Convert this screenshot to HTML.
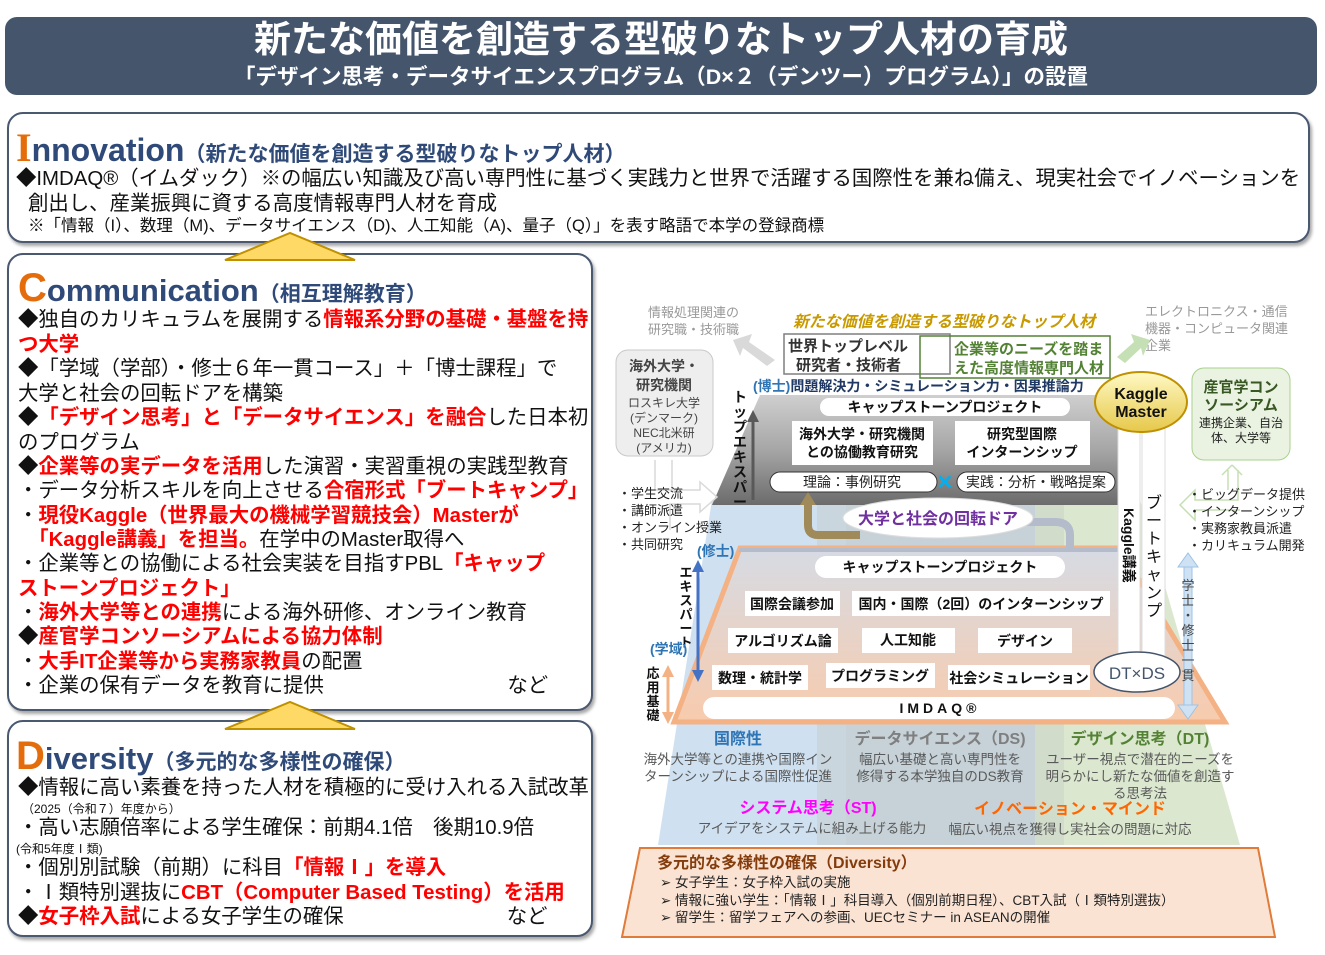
<!DOCTYPE html>
<html><head><meta charset="utf-8"><style>
*{margin:0;padding:0;box-sizing:border-box}
body{width:1325px;height:955px;background:#fff;position:relative;overflow:hidden;font-family:"Liberation Sans","Noto Sans CJK JP",sans-serif;color:#111}
.a{position:absolute;white-space:nowrap}
.panel{position:absolute;border:2px solid #4a5870;border-radius:16px;background:#fff;box-shadow:2px 3px 3px rgba(0,0,0,.35)}
.r{color:#f00;font-weight:bold}
.big{font-weight:bold;color:#2f4a78}
.ini{color:#e46c0a;font-weight:900}
.sub{font-weight:bold;color:#2f4a78;font-size:21px}
.ln{position:absolute;left:18px;font-size:20.4px;white-space:nowrap;line-height:24px}
</style></head><body>
<div class="a" style="left:5px;top:17px;width:1312px;height:78px;background:#45556c;border-radius:12px"></div>
<div class="a" style="left:5px;top:16px;width:1312px;text-align:center;color:#fff;font-weight:bold;font-size:37px;line-height:48px">新たな価値を創造する型破りなトップ人材の育成</div>
<div class="a" style="left:5px;top:63px;width:1312px;text-align:center;color:#fff;font-weight:bold;font-size:21.5px;line-height:28px">「デザイン思考・データサイエンスプログラム（D×２（デンツー）プログラム）」の設置</div>

<div class="panel" style="left:7px;top:112px;width:1303px;height:131px"></div>
<div class="a" style="left:16px;top:126px;line-height:44px"><span class="ini" style="font-size:40px;font-family:'Liberation Serif',serif">I</span><span class="big" style="font-size:32px">nnovation</span><span class="sub">（新たな価値を創造する型破りなトップ人材）</span></div>
<div class="a" style="left:16px;top:167px;font-size:20.4px;line-height:24px">◆IMDAQ®（イムダック）※の幅広い知識及び高い専門性に基づく実践力と世界で活躍する国際性を兼ね備え、現実社会でイノベーションを</div>
<div class="a" style="left:28px;top:192px;font-size:20.4px;line-height:24px">創出し、産業振興に資する高度情報専門人材を育成</div>
<div class="a" style="left:28px;top:216px;font-size:16.5px;line-height:20px">※「情報（I）、数理（M)、データサイエンス（D)、人工知能（A)、量子（Q）」を表す略語で本学の登録商標</div>

<div class="panel" style="left:7px;top:253px;width:586px;height:458px"></div>
<svg class="a" style="left:220px;top:230px" width="140" height="32"><polygon points="5,30 70,3 135,30" fill="#ffd966" stroke="#bf9000" stroke-width="2"/></svg>
<div class="a" style="left:18px;top:266px;line-height:44px"><span class="ini" style="font-size:40px">C</span><span class="big" style="font-size:31px">ommunication</span><span class="sub">（相互理解教育）</span></div>
<div class="ln" style="top:308px">◆独自のカリキュラムを展開する<span class="r">情報系分野の基礎・基盤を持</span></div>
<div class="ln" style="top:333px"><span class="r">つ大学</span></div>
<div class="ln" style="top:357px">◆「学域（学部）・修士６年一貫コース」＋「博士課程」で</div>
<div class="ln" style="top:382px">大学と社会の回転ドアを構築</div>
<div class="ln" style="top:406px">◆<span class="r">「デザイン思考」と「データサイエンス」を融合</span>した日本初</div>
<div class="ln" style="top:431px">のプログラム</div>
<div class="ln" style="top:455px">◆<span class="r">企業等の実データを活用</span>した演習・実習重視の実践型教育</div>
<div class="ln" style="top:479px">・データ分析スキルを向上させる<span class="r">合宿形式「ブートキャンプ」</span></div>
<div class="ln" style="top:504px">・<span class="r">現役Kaggle（世界最大の機械学習競技会）Masterが</span></div>
<div class="ln" style="top:528px">　<span class="r">「Kaggle講義」を担当。</span>在学中のMaster取得へ</div>
<div class="ln" style="top:552px">・企業等との協働による社会実装を目指すPBL<span class="r">「キャップ</span></div>
<div class="ln" style="top:577px"><span class="r">ストーンプロジェクト」</span></div>
<div class="ln" style="top:601px">・<span class="r">海外大学等との連携</span>による海外研修、オンライン教育</div>
<div class="ln" style="top:625px">◆<span class="r">産官学コンソーシアムによる協力体制</span></div>
<div class="ln" style="top:650px">・<span class="r">大手IT企業等から実務家教員</span>の配置</div>
<div class="ln" style="top:674px">・企業の保有データを教育に提供　　　　　　　　　など</div>

<div class="panel" style="left:7px;top:720px;width:586px;height:217px"></div>
<svg class="a" style="left:220px;top:699px" width="140" height="32"><polygon points="5,30 70,3 135,30" fill="#ffd966" stroke="#bf9000" stroke-width="2"/></svg>
<div class="a" style="left:16px;top:734px;line-height:44px"><span class="ini" style="font-size:40px">D</span><span class="big" style="font-size:31px">iversity</span><span class="sub">（多元的な多様性の確保）</span></div>
<div class="ln" style="top:776px">◆情報に高い素養を持った人材を積極的に受け入れる入試改革</div>
<div class="a" style="left:22px;top:801px;font-size:12px;line-height:16px">（2025（令和７）年度から）</div>
<div class="ln" style="top:816px">・高い志願倍率による学生確保：前期4.1倍　後期10.9倍</div>
<div class="a" style="left:16px;top:841px;font-size:12px;line-height:16px">(令和5年度Ⅰ類)</div>
<div class="ln" style="top:856px">・個別別試験（前期）に科目<span class="r">「情報Ⅰ」を導入</span></div>
<div class="ln" style="top:881px">・Ⅰ類特別選抜に<span class="r">CBT（Computer Based Testing）を活用</span></div>
<div class="ln" style="top:905px">◆<span class="r">女子枠入試</span>による女子学生の確保　　　　　　　　など</div>

<svg class="a" style="left:0;top:0" width="1325" height="955" font-family="Liberation Sans, Noto Sans CJK JP, sans-serif">
<defs>
<linearGradient id="gt" x1="0" y1="0" x2="0" y2="1"><stop offset="0" stop-color="#cfcfcf"/><stop offset=".5" stop-color="#a6a6a6"/><stop offset="1" stop-color="#6b6b6b"/></linearGradient>
<linearGradient id="gm" x1="0" y1="0" x2="0" y2="1"><stop offset="0" stop-color="#d6dbe4"/><stop offset="1" stop-color="#f8cbad"/></linearGradient>
<linearGradient id="gk" x1="0" y1="0" x2="0" y2="1"><stop offset="0" stop-color="#fff9c4"/><stop offset="1" stop-color="#e6c84a"/></linearGradient>
<clipPath id="cb"><polygon points="712,500 1140,500 1240,845 658,845"/></clipPath>
</defs>
<g clip-path="url(#cb)">
<rect x="600" y="490" width="217" height="360" fill="#cfe0f1"/>
<rect x="817" y="490" width="29" height="360" fill="#c9d6de"/>
<rect x="846" y="490" width="189" height="360" fill="#c7d2d8"/>
<rect x="1035" y="490" width="29" height="360" fill="#d1dccb"/>
<rect x="1064" y="490" width="200" height="360" fill="#dbe8cf"/>
</g>
<polygon points="640,848 1258,848 1275,937 622,937" fill="#fbe3d4" stroke="#e07b39" stroke-width="2"/>
<text x="657" y="868" font-size="16" font-weight="bold" fill="#843c0c">多元的な多様性の確保（Diversity）</text>
<g font-size="13.5" fill="#222"><text x="660" y="887">➢ 女子学生：女子枠入試の実施</text><text x="660" y="905">➢ 情報に強い学生：「情報Ⅰ」科目導入（個別前期日程）、CBT入試（Ⅰ類特別選抜）</text><text x="660" y="922">➢ 留学生：留学フェアへの参画、UECセミナー in ASEANの開催</text></g>
<g font-size="16" font-weight="bold" text-anchor="middle"><text x="738" y="744" fill="#2e75b6">国際性</text><text x="940" y="744" fill="#7f7f7f">データサイエンス（DS)</text><text x="1140" y="744" fill="#548235">デザイン思考（DT)</text>
<text x="808" y="813" fill="#ff00ff">システム思考（ST)</text><text x="1070" y="814" fill="#ff6600">イノベーション・マインド</text></g>
<g font-size="13.5" fill="#595959" text-anchor="middle"><text x="738" y="764">海外大学等との連携や国際イン</text><text x="738" y="781">ターンシップによる国際性促進</text>
<text x="940" y="764">幅広い基礎と高い専門性を</text><text x="940" y="781">修得する本学独自のDS教育</text>
<text x="1140" y="764">ユーザー視点で潜在的ニーズを</text><text x="1140" y="781">明らかにし新たな価値を創造す</text><text x="1140" y="798">る思考法</text>
<text x="812" y="833">アイデアをシステムに組み上げる能力</text><text x="1070" y="834">幅広い視点を獲得し実社会の問題に対応</text></g>
<polygon points="740,548 1120,548 1225,722 674,722" fill="url(#gm)" stroke="#f4b183" stroke-width="5"/>
<polygon points="740,548 1120,548 1122,552 738,552" fill="#b4bccb"/>
<g fill="#fff"><rect x="815" y="556" width="250" height="22" rx="11"/><rect x="745" y="591" width="95" height="25"/><rect x="852" y="591" width="258" height="25"/><rect x="728" y="628" width="110" height="25"/><rect x="862" y="628" width="93" height="25"/><rect x="978" y="628" width="94" height="25"/><rect x="712" y="665" width="96" height="25"/><rect x="826" y="663" width="109" height="25"/><rect x="948" y="665" width="142" height="25"/><rect x="703" y="697" width="472" height="22" rx="11"/></g>
<g font-size="14" font-weight="bold" fill="#111" text-anchor="middle"><text x="940" y="572">キャップストーンプロジェクト</text><text x="792" y="609">国際会議参加</text><text x="981" y="609">国内・国際（2回）のインターンシップ</text><text x="783" y="646">アルゴリズム論</text><text x="908" y="645">人工知能</text><text x="1025" y="646">デザイン</text><text x="760" y="683">数理・統計学</text><text x="880" y="681">プログラミング</text><text x="1019" y="683">社会シミュレーション</text><text x="940" y="713" letter-spacing="4">IMDAQ®</text></g>
<polygon points="760,395 1110,395 1140,505 712,505" fill="url(#gt)"/>
<g fill="#fff"><rect x="820" y="398" width="250" height="18" rx="9"/><rect x="792" y="421" width="141" height="44"/><rect x="955" y="421" width="135" height="44"/><rect x="770" y="472" width="167" height="20" rx="10" stroke="#333"/><rect x="957" y="472" width="158" height="20" rx="10" stroke="#333"/></g>
<g font-size="14" font-weight="bold" text-anchor="middle" fill="#111"><text x="945" y="412">キャップストーンプロジェクト</text><text x="862" y="439">海外大学・研究機関</text><text x="862" y="457">との協働教育研究</text><text x="1022" y="439">研究型国際</text><text x="1022" y="457">インターンシップ</text></g>
<g font-size="14" text-anchor="middle" fill="#222"><text x="852" y="487">理論：事例研究</text><text x="1036" y="487">実践：分析・戦略提案</text></g>
<text x="945" y="489" font-size="20" font-weight="bold" fill="#00b0f0" text-anchor="middle">✕</text>
<path d="M808,500 V525 Q808,535 818,535 H860" fill="none" stroke="#a08a5a" stroke-width="8"/>
<polygon points="800,505 816,505 808,492" fill="#a08a5a"/>
<path d="M1010,522 H1055 Q1070,522 1070,535 V548" fill="none" stroke="#b4bccb" stroke-width="8"/>
<ellipse cx="938" cy="518" rx="95" ry="20" fill="#fff" stroke="#ddd"/>
<text x="938" y="524" font-size="16" font-weight="bold" fill="#7030a0" text-anchor="middle">大学と社会の回転ドア</text>
<rect x="1118" y="400" width="22" height="268" fill="#fff" stroke="#ddd"/>
<rect x="1142" y="400" width="23" height="268" fill="#fff" stroke="#ddd"/>
<ellipse cx="1141" cy="402" rx="46" ry="30" fill="url(#gk)" stroke="#bf9000" stroke-width="2"/>
<g font-size="16" font-weight="bold" text-anchor="middle" fill="#111"><text x="1141" y="399">Kaggle</text><text x="1141" y="417">Master</text></g>
<text x="1124" y="508" font-size="14" font-weight="bold" fill="#111" transform="rotate(90 1124 508)">Kaggle講義</text>
<g font-size="16" fill="#111" text-anchor="middle"><text x="1154" y="508">ブ</text><text x="1154" y="526">ー</text><text x="1154" y="544">ト</text><text x="1154" y="562">キ</text><text x="1154" y="580">ャ</text><text x="1154" y="598">ン</text><text x="1154" y="616">プ</text></g>
<ellipse cx="1137" cy="672" rx="43" ry="20" fill="#fff" stroke="#44546a" stroke-width="1.5"/>
<text x="1137" y="679" font-size="17" fill="#44546a" text-anchor="middle">DT×DS</text>
<rect x="1184" y="565" width="8" height="142" fill="#cfe2f3" stroke="#9dc3e6"/>
<polygon points="1178,567 1198,567 1188,553" fill="#cfe2f3" stroke="#9dc3e6"/><polygon points="1178,705 1198,705 1188,719" fill="#cfe2f3" stroke="#9dc3e6"/>
<g font-size="13" fill="#444" text-anchor="middle"><text x="1188" y="590">学</text><text x="1188" y="605">士</text><text x="1188" y="620">・</text><text x="1188" y="635">修</text><text x="1188" y="650">士</text><text x="1188" y="665">一</text><text x="1188" y="680">貫</text></g>
<line x1="753" y1="500" x2="753" y2="420" stroke="#595959" stroke-width="3"/><polygon points="747,422 759,422 753,410" fill="#595959"/>
<g font-size="14" font-weight="bold" fill="#111" text-anchor="middle"><text x="740" y="402">ト</text><text x="740" y="417">ッ</text><text x="740" y="432">プ</text><text x="740" y="447">エ</text><text x="740" y="462">キ</text><text x="740" y="477">ス</text><text x="740" y="492">パ</text><text x="740" y="507">ー</text></g>
<text x="753" y="391" font-size="14" font-weight="bold" fill="#2e75b6">(博士)<tspan fill="#1f3864">問題解決力・シミュレーション力・因果推論力</tspan></text>
<text x="697" y="556" font-size="14" font-weight="bold" fill="#2e75b6">(修士)</text>
<line x1="698" y1="570" x2="698" y2="672" stroke="#4472c4" stroke-width="3"/><polygon points="692,572 704,572 698,560" fill="#4472c4"/><polygon points="692,670 704,670 698,682" fill="#4472c4"/>
<g font-size="13" font-weight="bold" fill="#111" text-anchor="middle"><text x="686" y="577">エ</text><text x="686" y="591">キ</text><text x="686" y="605">ス</text><text x="686" y="619">パ</text><text x="686" y="633">ー</text><text x="686" y="647">ト</text></g>
<text x="650" y="654" font-size="14" font-weight="bold" fill="#2e75b6">(学域)</text>
<line x1="668" y1="675" x2="668" y2="714" stroke="#f4b183" stroke-width="3"/><polygon points="662,677 674,677 668,665" fill="#f4b183"/><polygon points="662,712 674,712 668,724" fill="#f4b183"/>
<g font-size="13" font-weight="bold" fill="#111" text-anchor="middle"><text x="653" y="678">応</text><text x="653" y="692">用</text><text x="653" y="706">基</text><text x="653" y="720">礎</text></g>
<g font-size="13" fill="#999"><text x="648" y="317">情報処理関連の</text><text x="648" y="334">研究職・技術職</text><text x="1145" y="316">エレクトロニクス・通信</text><text x="1145" y="333">機器・コンピュータ関連</text><text x="1145" y="350">企業</text></g>
<text x="793" y="327" font-size="16" font-weight="bold" font-style="italic" fill="#c89a00" textLength="302" lengthAdjust="spacingAndGlyphs">新たな価値を創造する型破りなトップ人材</text>
<polygon points="733,340 752,334 749,342 775,360 767,366 743,348 740,356" fill="#d9d9d9"/>
<polygon points="1150,340 1131,334 1134,342 1117,357 1125,363 1141,348 1143,356" fill="#c5e0b4"/>
<rect x="784" y="334" width="166" height="40" fill="#fff" stroke="#7f7f7f" stroke-width="1.5"/>
<g font-size="15" font-weight="bold" fill="#333"><text x="788" y="351">世界トップレベル</text><text x="796" y="370">研究者・技術者</text></g>
<rect x="920" y="336" width="190" height="42" fill="none" stroke="#548235" stroke-width="1.5"/>
<rect x="953" y="338" width="155" height="38" fill="#fff"/>
<g font-size="15" font-weight="bold" fill="#548235"><text x="954" y="354">企業等のニーズを踏ま</text><text x="954" y="373">えた高度情報専門人材</text></g>
<rect x="616" y="350" width="97" height="106" rx="12" fill="#eeeeee" stroke="#c9c9c9"/>
<g text-anchor="middle" fill="#444"><text x="664" y="371" font-size="14" font-weight="bold">海外大学・</text><text x="664" y="390" font-size="14" font-weight="bold">研究機関</text><text x="664" y="407" font-size="12">ロスキレ大学</text><text x="664" y="422" font-size="12">(デンマーク)</text><text x="664" y="437" font-size="12">NEC北米研</text><text x="664" y="452" font-size="12">(アメリカ)</text></g>
<rect x="1192" y="368" width="98" height="92" rx="12" fill="#eaf3e2" stroke="#a9d18e"/>
<g text-anchor="middle" fill="#385723"><text x="1241" y="392" font-size="15" font-weight="bold">産官学コン</text><text x="1241" y="410" font-size="15" font-weight="bold">ソーシアム</text><text x="1241" y="427" font-size="12" fill="#222">連携企業、自治</text><text x="1241" y="442" font-size="12" fill="#222">体、大学等</text></g>
<path d="M655,460 V490 H700 V482 L717,497 L700,512 V504 H670 V530 M672,460 V490" fill="none" stroke="#d9d9d9" stroke-width="1.5"/>
<path d="M1232,465 L1242,475 M1222,475 L1232,465 M1228,470 V490 M1238,470 V500 H1195 V490 L1180,505 L1195,520 V510 H1240" fill="none" stroke="#c5e0b4" stroke-width="1.5"/>
<g font-size="13" fill="#222"><text x="618" y="498">・学生交流</text><text x="618" y="515">・講師派遣</text><text x="618" y="532">・オンライン授業</text><text x="618" y="549">・共同研究</text>
<text x="1188" y="499">・ビッグデータ提供</text><text x="1188" y="516">・インターンシップ</text><text x="1188" y="533">・実務家教員派遣</text><text x="1188" y="550">・カリキュラム開発</text></g>
</svg>
</body></html>
